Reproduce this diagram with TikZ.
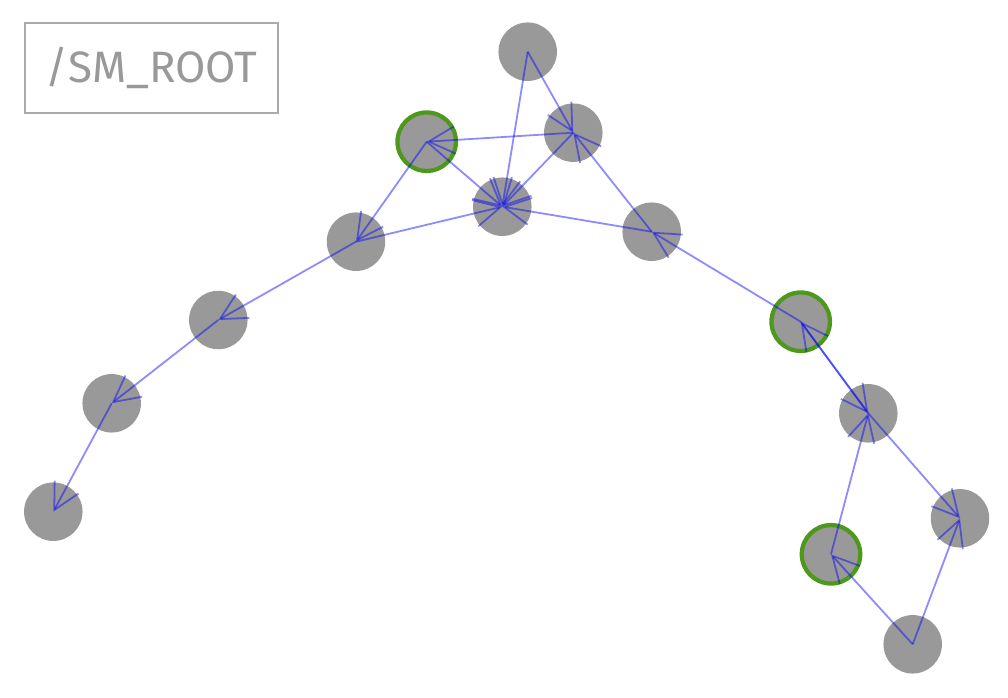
\documentclass[tikz,border=0pt]{standalone}
\usepackage{fontspec}
\setsansfont{Fira Sans}
\usetikzlibrary{arrows.meta}
\definecolor{stategray}{RGB}{153,153,153}
\definecolor{markgreen}{RGB}{78,152,28}
\definecolor{framegray}{RGB}{170,170,170}
\tikzset{
  state/.style  = {circle, fill=stategray, minimum size=1.17cm, inner sep=0pt},
  marked/.style = {state, draw=markgreen, line width=0.085cm},
  root/.style   = {rectangle, draw=framegray, line width=0.03cm,
                   minimum width=5.06cm, minimum height=1.8cm,
                   text=stategray, font=\sffamily\fontsize{25}{30}\selectfont},
  link/.style   = {draw=blue, draw opacity=0.45, line width=0.036cm,
                   -{Straight Barb[length=0.52cm, width=0.54cm]}}
}

\begin{document}
\begin{tikzpicture}[x=0.02cm, y=-0.02cm]
\useasboundingbox (0,0) rectangle (1008,697);

% Label
\node[root] at (151.5,68) (label) {/SM\_ROOT};

% States
\node[state]  at (527.7,51.7)  (s1)  {};
\node[state]  at (573.3,132.7) (s2)  {};
\node[marked] at (426.7,141.7) (s3)  {};
\node[state]  at (502.3,206.7) (s4)  {};
\node[state]  at (651.7,231.7) (s5)  {};
\node[state]  at (356,241.7)   (s6)  {};
\node[state]  at (218.3,320)   (s7)  {};
\node[marked] at (800.7,321.7) (s8)  {};
\node[state]  at (111.7,403.3) (s9)  {};
\node[state]  at (868.3,413.3) (s10) {};
\node[state]  at (53.3,511.7)  (s11) {};
\node[state]  at (960,518.3)   (s12) {};
\node[marked] at (831,554.3)   (s13) {};
\node[state]  at (912.7,644.3) (s14) {};

% Transitions
\draw[link] (s1.center) -- (s2.center);
\draw[link] (s1.center) -- (s4.center);
\draw[link] (s2.center) -- (s3.center);
\draw[link] (s2.center) -- (s4.center);
\draw[link] (s3.center) -- (s4.center);
\draw[link] (s3.center) -- (s6.center);
\draw[link] (s5.center) -- (s4.center);
\draw[link] (s5.center) -- (s2.center);
\draw[link] (s6.center) -- (s4.center);
\draw[link] (s6.center) -- (s7.center);
\draw[link] (s7.center) -- (s9.center);
\draw[link] (s9.center) -- (s11.center);
\draw[link] (s8.center) -- (s5.center);
\draw[link] (s8.center) -- (s10.center);
\draw[link] (s10.center) -- (s8.center);
\draw[link] (s10.center) -- (s12.center);
\draw[link] (s13.center) -- (s10.center);
\draw[link] (s14.center) -- (s13.center);
\draw[link] (s14.center) -- (s12.center);

\end{tikzpicture}
\end{document}
